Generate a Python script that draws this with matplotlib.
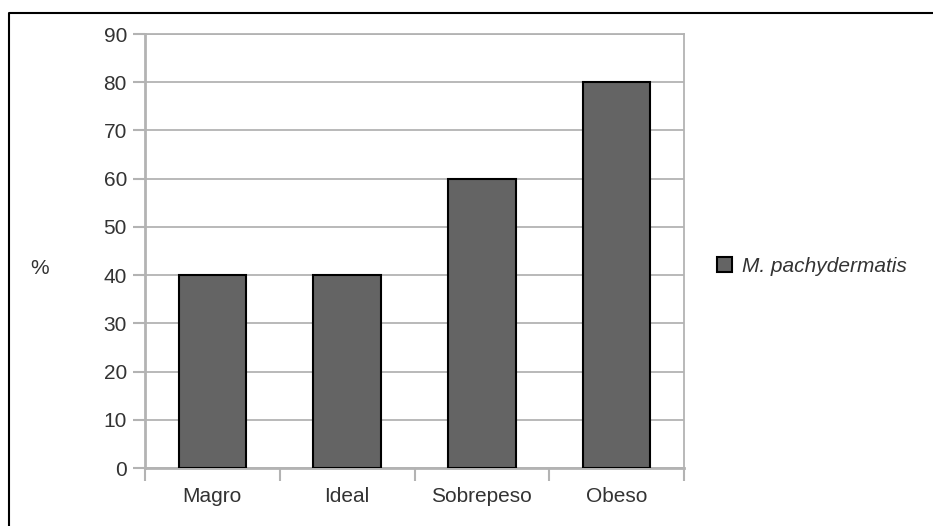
import matplotlib.pyplot as plt
from matplotlib.lines import Line2D

plt.rcParams['font.family'] = ['Liberation Sans', 'DejaVu Sans']

categories = ["Magro", "Ideal", "Sobrepeso", "Obeso"]
values = [40, 40, 60, 80]
series_name = "M. pachydermatis"
y_ticks = [0, 10, 20, 30, 40, 50, 60, 70, 80, 90]

grid_col = "#b3b3b3"
text_col = "#333333"
bar_col = "#646464"
fs = 15

fig = plt.figure(figsize=(9.33, 5.26), dpi=100)
ax = fig.add_axes([145 / 933, 58 / 526, 539 / 933, 434 / 526])

x = list(range(len(categories)))
ax.bar(x, values, width=0.5, color=bar_col, edgecolor="black", linewidth=1.5,
       zorder=3, label=series_name)

ax.set_xlim(-0.5, len(categories) - 0.5)
ax.set_ylim(0, 90)
ax.set_yticks(y_ticks)
ax.yaxis.grid(True, color=grid_col, linewidth=1.3, zorder=0)
ax.set_axisbelow(True)

# category boundaries get the tick marks, labels sit in the middle
ax.set_xticks([i - 0.5 for i in range(len(categories) + 1)])
ax.set_xticklabels([])
ax.set_xticks(x, minor=True)
ax.set_xticklabels(categories, minor=True)
ax.tick_params(axis="x", which="major", length=9, width=1.5, color=grid_col, direction="out")
ax.tick_params(axis="x", which="minor", length=0, pad=14, labelsize=fs, labelcolor=text_col)
ax.tick_params(axis="y", length=9, width=1.5, color=grid_col, pad=4,
               labelsize=fs, labelcolor=text_col)

for side in ["left", "bottom"]:
    ax.spines[side].set_color(grid_col)
    ax.spines[side].set_linewidth(2)
for side in ["right", "top"]:
    ax.spines[side].set_color(grid_col)
    ax.spines[side].set_linewidth(1.3)

fig.text(40 / 933, 1 - 268 / 526, "%", ha="center", va="center",
         fontsize=fs, color=text_col)

leg = ax.legend(loc="center left", bbox_to_anchor=(698 / 933, 1 - 266 / 526),
                bbox_transform=fig.transFigure, frameon=False,
                handlelength=0.75, handleheight=0.75, handletextpad=0.45,
                prop={"size": fs, "style": "italic"})
for t in leg.get_texts():
    t.set_color(text_col)

# frame lines along the left and top edge
fig.add_artist(Line2D([8.5 / 933, 8.5 / 933, 1], [0, 1 - 12.5 / 526, 1 - 12.5 / 526],
                      transform=fig.transFigure, color="black", linewidth=1.5))

fig.savefig("out.png", dpi=100)
